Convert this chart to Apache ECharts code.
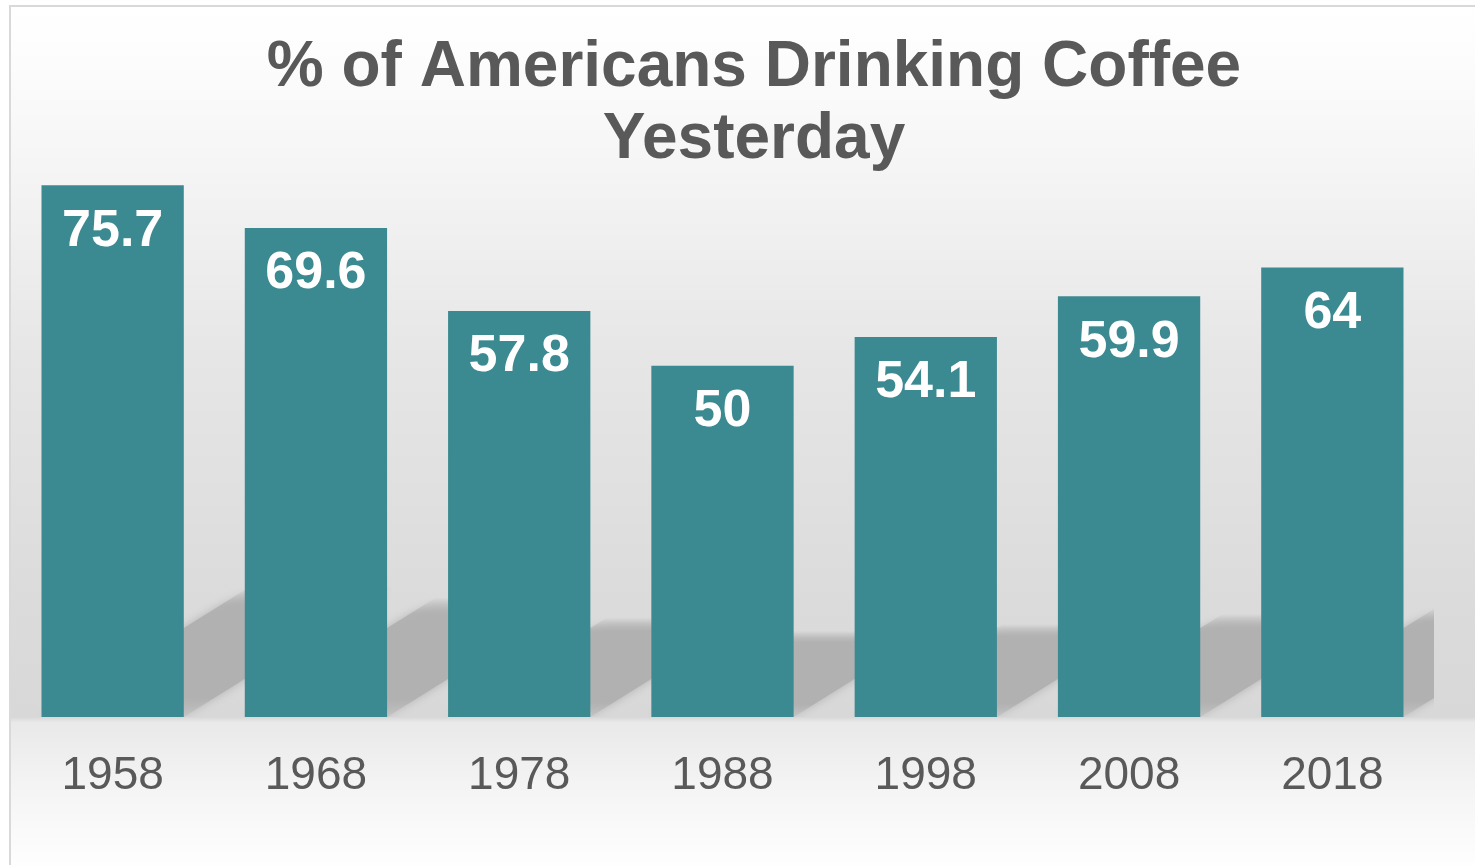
<!DOCTYPE html>
<html>
<head>
<meta charset="utf-8">
<script src="https://cdn.jsdelivr.net/npm/echarts@6/dist/echarts.min.js"></script>
<style>
  html, body { margin: 0; padding: 0; background: #ffffff; }
  #chart { width: 1475px; height: 865px; }
</style>
</head>
<body>
<div id="chart"></div>
<script>
const titleLines = ['% of Americans Drinking Coffee', 'Yesterday'];
const years = ['1958', '1968', '1978', '1988', '1998', '2008', '2018'];
const pctDrinking = [75.7, 69.6, 57.8, 50, 54.1, 59.9, 64];

const FONT = '"Liberation Sans", Arial, sans-serif';
const chart = echarts.init(document.getElementById('chart'), null, { renderer: 'canvas' });

chart.setOption({
  animation: false,
  graphic: [{
    type: 'rect',
    z: -10,
    shape: { x: 10, y: 6, width: 1480, height: 875 },
    style: {
      fill: {
        type: 'linear', x: 0, y: 0, x2: 0, y2: 1,
        colorStops: [
          { offset: 0.00, color: '#ffffff' },
          { offset: 0.05, color: '#fdfdfd' },
          { offset: 0.17, color: '#f6f6f6' },
          { offset: 0.40, color: '#e6e6e6' },
          { offset: 0.68, color: '#dbdbdb' },
          { offset: 0.812, color: '#d8d8d8' },
          { offset: 0.818, color: '#e9e9e9' },
          { offset: 0.89, color: '#f4f4f4' },
          { offset: 0.98, color: '#fefefe' },
          { offset: 1.00, color: '#ffffff' }
        ]
      },
      stroke: '#d9d9d9',
      lineWidth: 2
    }
  }],
  title: {
    text: titleLines.join('\n'),
    left: 749,
    top: 27,
    textAlign: 'center',
    textStyle: {
      fontFamily: FONT,
      fontWeight: 'bold',
      fontSize: 64,
      lineHeight: 72,
      color: '#595959'
    }
  },
  grid: { left: 11, right: 41, top: 155, bottom: 148, containLabel: false },
  xAxis: {
    type: 'category',
    data: years,
    axisLine: { show: false },
    axisTick: { show: false },
    axisLabel: {
      margin: 36,
      fontFamily: FONT,
      fontSize: 46,
      color: '#595959'
    }
  },
  yAxis: {
    type: 'value',
    min: 0,
    max: 80,
    show: false,
    splitLine: { show: false }
  },
  series: [
    {
      type: 'custom',
      z: 1,
      clip: true,
      silent: true,
      data: pctDrinking.map((v, i) => [i, v]),
      renderItem: function (params, api) {
        const i = api.value(0);
        const v = api.value(1);
        const base = api.coord([i, 0]);
        const top = api.coord([i, v]);
        const bw = api.size([1, 0])[0] * 0.7;
        const H = base[1] - top[1];
        const h = H * 0.245;
        const dx = h * 1.6;
        const x0 = base[0] - bw / 2;
        const x1 = base[0] + bw / 2;
        const yb = base[1];
        return {
          type: 'polygon',
          shape: {
            points: [
              [x0, yb], [x1, yb], [x1 + dx, yb - h], [x0 + dx, yb - h]
            ]
          },
          style: {
            fill: {
              type: 'linear', x: 0, y: 0, x2: 0, y2: 1,
              colorStops: [
                { offset: 0.0, color: 'rgba(176,176,176,0)' },
                { offset: 0.14, color: 'rgba(176,176,176,0.85)' },
                { offset: 0.24, color: '#b1b1b1' },
                { offset: 0.85, color: '#b1b1b1' },
                { offset: 1.0, color: 'rgba(190,190,190,0.6)' }
              ]
            },
            shadowBlur: 10,
            shadowColor: 'rgba(170,170,170,0.8)'
          }
        };
      }
    },
    {
      type: 'bar',
      z: 2,
      data: pctDrinking,
      barWidth: '70%',
      itemStyle: { color: '#3c8a91' },
      label: {
        show: true,
        position: 'insideTop',
        distance: 20,
        fontFamily: FONT,
        fontWeight: 'bold',
        fontSize: 52,
        color: '#ffffff'
      }
    }
  ]
});
</script>
</body>
</html>
